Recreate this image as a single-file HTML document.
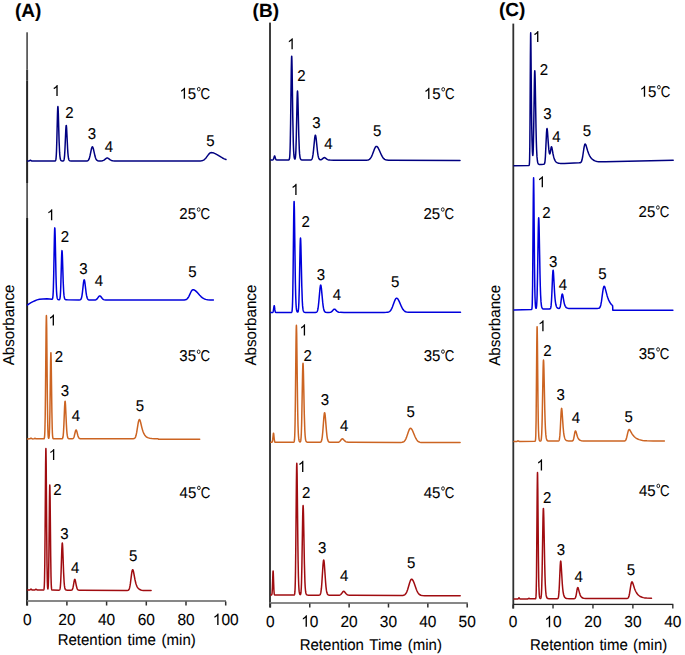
<!DOCTYPE html>
<html><head><meta charset="utf-8"><title>Chromatograms</title>
<style>
html,body{margin:0;padding:0;background:#fff;}
body{width:685px;height:655px;overflow:hidden;}
svg{display:block;font-family:"Liberation Sans",sans-serif;fill:#000;}
text{stroke:#000;stroke-width:0.1px;text-rendering:geometricPrecision;}
</style></head>
<body>
<svg width="685" height="655" viewBox="0 0 685 655">
<rect x="0" y="0" width="685" height="655" fill="#fff"/>
<text font-size="19" text-anchor="start" font-weight="bold" transform="translate(15.00,17.30) scale(1,1.000)">(A)</text>
<text font-size="19" text-anchor="start" font-weight="bold" transform="translate(252.60,17.00) scale(1,1.000)">(B)</text>
<text font-size="19" text-anchor="start" font-weight="bold" transform="translate(499.00,16.00) scale(1,1.000)">(C)</text>
<text x="0" y="0" font-size="15" text-anchor="middle" transform="translate(13.70,324.90) rotate(-90) scale(1.01,1.04)">Absorbance</text>
<text x="0" y="0" font-size="15" text-anchor="middle" transform="translate(255.60,325.10) rotate(-90) scale(1.01,1.04)">Absorbance</text>
<text x="0" y="0" font-size="15" text-anchor="middle" transform="translate(500.10,325.30) rotate(-90) scale(1.01,1.04)">Absorbance</text>
<rect x="26.20" y="32.30" width="1.80" height="37.30" fill="#5c5c5c"/>
<rect x="26.10" y="69.60" width="2.00" height="10.70" fill="#3a3a3a"/>
<rect x="26.10" y="80.30" width="2.00" height="102.70" fill="#262626"/>
<rect x="26.20" y="183.00" width="1.80" height="35.00" fill="#5c5c5c"/>
<rect x="26.10" y="218.00" width="2.00" height="387.50" fill="#1e1e1e"/>
<rect x="27.00" y="600.10" width="199.00" height="1.80" fill="#7a7a7a"/>
<rect x="26.45" y="601.50" width="1.50" height="4.00" fill="#303030"/>
<text font-size="15.5" text-anchor="start" font-weight="normal" transform="translate(22.89,624.90) scale(1,1.040)">0</text>
<rect x="66.15" y="601.50" width="1.50" height="4.00" fill="#303030"/>
<text font-size="15.5" text-anchor="start" font-weight="normal" transform="translate(58.28,624.90) scale(1,1.040)">20</text>
<rect x="105.85" y="601.50" width="1.50" height="4.00" fill="#303030"/>
<text font-size="15.5" text-anchor="start" font-weight="normal" transform="translate(97.98,624.90) scale(1,1.040)">40</text>
<rect x="145.55" y="601.50" width="1.50" height="4.00" fill="#303030"/>
<text font-size="15.5" text-anchor="start" font-weight="normal" transform="translate(137.68,624.90) scale(1,1.040)">60</text>
<rect x="185.25" y="601.50" width="1.50" height="4.00" fill="#303030"/>
<text font-size="15.5" text-anchor="start" font-weight="normal" transform="translate(177.38,624.90) scale(1,1.040)">80</text>
<rect x="224.95" y="601.50" width="1.50" height="4.00" fill="#303030"/>
<path d="M763 0H583V1147Q518 1085 412.5 1023T223 930V1104Q373 1175 485.5 1276T645 1466H763Z" transform="translate(212.77,624.90) scale(0.00757,-0.00780)"/>
<text font-size="15.5" text-anchor="start" font-weight="normal" transform="translate(221.39,624.90) scale(1,1.040)">0</text>
<text font-size="15.5" text-anchor="start" font-weight="normal" transform="translate(230.01,624.90) scale(1,1.040)">0</text>
<text font-size="15" text-anchor="middle" font-weight="normal" word-spacing="1.5" transform="translate(126.70,645.00) scale(1,1.040)">Retention time (min)</text>
<rect x="269.10" y="22.60" width="1.80" height="584.90" fill="#2a2a2a"/>
<rect x="269.50" y="602.10" width="198.30" height="1.80" fill="#7a7a7a"/>
<rect x="269.65" y="603.50" width="1.50" height="4.00" fill="#303030"/>
<text font-size="15.5" text-anchor="start" font-weight="normal" transform="translate(266.09,626.80) scale(1,1.040)">0</text>
<rect x="309.01" y="603.50" width="1.50" height="4.00" fill="#303030"/>
<path d="M763 0H583V1147Q518 1085 412.5 1023T223 930V1104Q373 1175 485.5 1276T645 1466H763Z" transform="translate(301.14,626.80) scale(0.00757,-0.00780)"/>
<text font-size="15.5" text-anchor="start" font-weight="normal" transform="translate(309.76,626.80) scale(1,1.040)">0</text>
<rect x="348.37" y="603.50" width="1.50" height="4.00" fill="#303030"/>
<text font-size="15.5" text-anchor="start" font-weight="normal" transform="translate(340.50,626.80) scale(1,1.040)">20</text>
<rect x="387.73" y="603.50" width="1.50" height="4.00" fill="#303030"/>
<text font-size="15.5" text-anchor="start" font-weight="normal" transform="translate(379.86,626.80) scale(1,1.040)">30</text>
<rect x="427.09" y="603.50" width="1.50" height="4.00" fill="#303030"/>
<text font-size="15.5" text-anchor="start" font-weight="normal" transform="translate(419.22,626.80) scale(1,1.040)">40</text>
<rect x="466.45" y="603.50" width="1.50" height="4.00" fill="#303030"/>
<text font-size="15.5" text-anchor="start" font-weight="normal" transform="translate(458.58,626.80) scale(1,1.040)">50</text>
<text font-size="15" text-anchor="middle" font-weight="normal" word-spacing="1.5" transform="translate(370.80,649.50) scale(1,1.040)">Retention Time (min)</text>
<rect x="512.40" y="23.60" width="1.80" height="584.90" fill="#303030"/>
<rect x="513.00" y="603.75" width="160.30" height="1.30" fill="#222"/>
<rect x="512.40" y="604.50" width="1.40" height="4.00" fill="#303030"/>
<text font-size="15.5" text-anchor="start" font-weight="normal" transform="translate(508.79,627.30) scale(1,1.040)">0</text>
<rect x="552.33" y="604.50" width="1.40" height="4.00" fill="#303030"/>
<path d="M763 0H583V1147Q518 1085 412.5 1023T223 930V1104Q373 1175 485.5 1276T645 1466H763Z" transform="translate(544.41,627.30) scale(0.00757,-0.00780)"/>
<text font-size="15.5" text-anchor="start" font-weight="normal" transform="translate(553.03,627.30) scale(1,1.040)">0</text>
<rect x="592.26" y="604.50" width="1.40" height="4.00" fill="#303030"/>
<text font-size="15.5" text-anchor="start" font-weight="normal" transform="translate(584.34,627.30) scale(1,1.040)">20</text>
<rect x="632.19" y="604.50" width="1.40" height="4.00" fill="#303030"/>
<text font-size="15.5" text-anchor="start" font-weight="normal" transform="translate(624.27,627.30) scale(1,1.040)">30</text>
<rect x="672.12" y="604.50" width="1.40" height="4.00" fill="#303030"/>
<text font-size="15.5" text-anchor="start" font-weight="normal" transform="translate(664.20,627.30) scale(1,1.040)">40</text>
<text font-size="15" text-anchor="middle" font-weight="normal" word-spacing="1.1" transform="translate(598.60,649.60) scale(1,1.040)">Retention time (min)</text>
<path d="M27.50,161.00 28.60,160.99 29.10,160.92 29.50,160.74 30.10,160.29 30.40,160.20 30.70,160.29 31.60,160.89 32.50,161.00 54.60,161.00 55.20,160.92 55.40,160.80 55.60,160.51 55.90,159.40 56.10,157.81 56.30,155.13 56.50,150.99 56.80,141.62 57.50,113.32 57.70,108.35 57.80,107.04 57.90,106.60 58.00,107.02 58.10,108.27 58.30,112.88 59.10,141.02 59.60,152.42 59.90,156.12 60.30,158.77 60.50,159.50 60.80,160.18 61.10,160.55 61.60,160.83 62.20,160.95 62.90,160.97 63.30,160.91 63.60,160.72 63.80,160.42 64.00,159.89 64.30,158.31 64.60,155.31 64.90,150.44 65.80,129.71 66.00,126.76 66.20,125.45 66.30,125.47 66.40,125.93 66.60,128.07 67.60,148.45 67.90,153.08 68.20,156.25 68.50,158.26 68.90,159.73 69.10,160.14 69.40,160.53 69.70,160.74 70.10,160.88 70.80,160.97 71.90,161.00 85.90,160.99 87.10,160.90 87.50,160.80 87.90,160.60 88.30,160.26 88.70,159.71 89.10,158.88 89.40,158.03 90.00,155.75 91.50,148.61 92.00,147.17 92.20,146.89 92.40,146.80 92.60,146.90 92.80,147.18 93.20,148.23 93.60,149.79 95.00,156.07 95.40,157.45 95.90,158.76 96.50,159.78 97.10,160.37 97.80,160.73 98.80,160.92 100.00,160.97 101.20,160.95 102.10,160.84 102.80,160.66 103.40,160.41 104.00,160.04 106.20,158.31 106.70,158.08 107.20,158.00 107.70,158.08 108.30,158.35 110.30,159.85 111.40,160.45 112.70,160.81 114.60,160.97 195.30,161.00 200.20,160.91 201.50,160.76 202.60,160.48 203.50,160.10 204.40,159.51 205.20,158.81 206.00,157.92 208.40,154.66 209.30,153.59 209.80,153.13 210.20,152.86 210.70,152.65 211.10,152.60 212.00,152.65 213.00,152.83 214.00,153.13 215.10,153.59 217.00,154.60 220.80,156.97 222.50,157.96 224.30,158.85 226.00,159.52" fill="none" stroke="#000080" stroke-width="1.50" stroke-linejoin="round" stroke-linecap="round"/>
<path d="M27.50,305.00 29.00,303.80 31.00,302.60 33.00,301.60 35.00,300.70 37.00,299.90 39.50,299.20 43.00,298.90 47.00,298.80 51.90,299.26 52.10,299.22 52.30,299.09 52.50,298.77 52.80,297.48 53.00,295.58 53.20,292.28 53.40,287.09 53.70,275.06 54.40,237.19 54.60,230.33 54.70,228.50 54.80,227.88 54.90,228.46 55.00,230.20 55.20,236.68 56.00,275.84 56.20,283.11 56.50,290.69 56.80,295.08 57.10,297.40 57.30,298.27 57.50,298.81 57.80,299.27 58.20,299.54 58.70,299.67 59.20,299.70 59.50,299.58 59.70,299.33 60.00,298.35 60.30,295.85 60.60,290.75 60.80,285.48 61.60,256.69 61.80,252.19 61.90,251.01 62.00,250.61 62.10,251.00 62.20,252.12 62.40,256.30 63.20,281.75 63.70,292.07 64.00,295.42 64.40,297.81 64.60,298.48 64.90,299.09 65.20,299.43 65.70,299.69 66.30,299.80 67.40,299.85 79.20,299.94 80.20,299.83 80.50,299.69 80.80,299.43 81.10,298.97 81.40,298.23 81.90,296.08 82.40,292.56 83.50,282.58 83.90,280.33 84.10,279.85 84.20,279.78 84.30,279.84 84.50,280.30 84.80,281.78 86.10,292.56 86.50,295.19 86.90,297.08 87.30,298.32 87.80,299.21 88.10,299.51 88.40,299.70 89.20,299.94 90.60,300.02 94.20,300.04 95.20,299.96 95.90,299.78 96.50,299.45 97.10,298.89 99.00,296.32 99.40,296.00 99.80,295.90 100.20,296.01 100.60,296.32 102.30,298.53 103.20,299.37 103.70,299.66 104.30,299.87 105.80,300.06 180.30,300.10 182.90,300.08 184.30,300.01 185.30,299.84 186.20,299.51 186.90,299.05 187.60,298.37 188.20,297.56 188.90,296.35 190.80,292.25 191.50,290.92 192.20,290.02 192.60,289.76 192.90,289.70 193.50,289.76 194.20,289.99 194.90,290.37 195.60,290.88 196.90,292.12 199.70,295.26 201.00,296.58 202.50,297.83 203.90,298.69 204.70,299.06 205.60,299.38 207.50,299.79 209.90,300.01 213.40,300.09" fill="none" stroke="#0000dc" stroke-width="1.50" stroke-linejoin="round" stroke-linecap="round"/>
<path d="M27.50,438.90 29.80,438.85 30.10,438.74 30.70,438.23 31.00,438.09 31.30,438.23 31.90,438.73 32.50,438.88 33.90,438.84 34.20,438.72 34.80,438.33 35.00,438.29 35.30,438.39 35.90,438.77 36.40,438.87 43.60,438.86 44.00,438.74 44.20,438.47 44.40,437.79 44.50,437.15 44.70,434.84 44.90,430.27 45.20,416.42 45.50,391.56 46.10,327.94 46.30,316.92 46.40,315.47 46.50,316.92 46.70,327.94 47.40,401.08 47.70,422.17 47.90,430.26 48.10,434.82 48.30,437.12 48.40,437.73 48.60,438.30 48.70,438.35 48.80,438.27 48.90,438.03 49.10,436.98 49.20,436.04 49.40,432.85 49.60,427.20 49.90,412.47 50.60,361.37 50.80,353.68 50.90,352.66 51.00,353.68 51.20,361.37 51.90,412.47 52.20,427.20 52.40,432.85 52.60,436.04 52.90,438.10 53.10,438.58 53.30,438.77 54.00,438.86 61.80,438.83 62.10,438.77 62.40,438.60 62.60,438.34 62.80,437.84 63.00,436.99 63.20,435.60 63.50,432.12 63.90,424.37 64.60,406.79 64.90,402.15 65.00,401.46 65.10,401.24 65.20,401.50 65.30,402.21 65.50,404.85 66.40,424.62 66.70,429.77 67.00,433.36 67.30,435.66 67.70,437.36 67.90,437.84 68.20,438.29 68.50,438.53 68.90,438.70 70.00,438.82 72.30,438.79 72.90,438.63 73.40,438.21 73.80,437.53 74.20,436.41 75.30,431.71 75.60,430.66 75.90,430.04 76.10,429.93 76.20,429.96 76.40,430.21 76.70,430.97 77.90,435.68 78.50,437.31 78.80,437.82 79.20,438.27 79.70,438.57 80.30,438.72 81.20,438.80 83.00,438.81 131.50,438.74 133.20,438.71 134.00,438.60 134.60,438.31 135.10,437.79 135.60,436.82 136.00,435.61 136.70,432.40 138.00,424.17 138.40,422.00 138.90,420.16 139.10,419.76 139.40,419.53 139.60,419.62 139.80,419.88 140.20,420.85 140.60,422.27 141.80,427.34 142.40,429.61 143.10,431.78 143.90,433.67 144.80,435.19 145.80,436.36 146.40,436.86 147.00,437.25 148.40,437.88 149.90,438.25 151.80,438.50 154.30,438.63 158.00,438.68 158.50,439.19 199.70,439.20" fill="none" stroke="#cc6422" stroke-width="1.50" stroke-linejoin="round" stroke-linecap="round"/>
<path d="M27.50,590.00 29.80,589.96 30.10,589.83 30.70,589.26 31.00,589.12 31.30,589.27 31.90,589.84 32.20,589.97 32.50,590.01 34.60,589.98 35.00,589.84 35.70,589.33 36.00,589.24 36.30,589.34 37.10,589.90 37.60,590.03 43.30,590.06 43.60,589.99 43.80,589.77 44.00,589.14 44.10,588.51 44.30,586.04 44.50,580.78 44.80,563.71 45.10,531.87 45.60,465.13 45.80,450.44 45.90,448.49 46.00,450.44 46.20,465.13 46.70,531.88 47.00,563.72 47.30,580.77 47.50,585.98 47.60,587.41 47.80,588.75 47.90,588.85 48.00,588.62 48.10,588.03 48.30,585.44 48.60,575.87 48.90,555.98 49.50,497.36 49.70,486.46 49.80,485.01 49.90,486.46 50.10,497.36 50.70,555.99 51.00,575.89 51.20,583.21 51.40,587.11 51.60,588.95 51.70,589.42 51.90,589.89 52.10,590.05 52.50,590.12 59.00,590.13 59.30,590.06 59.60,589.85 59.80,589.52 60.00,588.90 60.20,587.83 60.40,586.09 60.70,581.74 61.10,572.03 61.80,550.02 62.10,544.21 62.20,543.34 62.30,543.07 62.40,543.39 62.50,544.28 62.70,547.60 63.60,572.37 64.10,582.02 64.40,585.39 64.80,587.94 65.00,588.66 65.30,589.34 65.60,589.72 65.90,589.93 66.40,590.10 67.10,590.17 70.90,590.20 71.70,590.06 72.00,589.88 72.20,589.67 72.60,588.91 72.90,587.96 73.30,586.10 74.20,580.86 74.50,579.73 74.70,579.38 74.80,579.33 75.00,579.50 75.30,580.36 76.40,586.03 77.00,588.27 77.30,588.96 77.70,589.55 78.20,589.94 78.80,590.13 79.70,590.23 81.40,590.26 125.60,590.48 127.20,590.47 128.00,590.35 128.30,590.22 128.60,589.99 129.00,589.45 129.40,588.49 129.70,587.41 130.00,585.96 130.40,583.44 131.50,574.65 131.90,571.98 132.30,570.27 132.50,569.84 132.70,569.71 132.90,569.86 133.10,570.28 133.50,571.73 135.00,579.76 135.90,583.54 136.40,585.07 136.90,586.28 137.50,587.38 138.20,588.32 138.90,588.98 139.80,589.55 140.80,589.94 141.90,590.21 143.30,590.39 145.00,590.50 151.10,590.60" fill="none" stroke="#a00c10" stroke-width="1.50" stroke-linejoin="round" stroke-linecap="round"/>
<path d="M270.80,159.90 272.60,159.89 272.90,159.84 273.20,159.65 273.40,159.37 273.60,158.91 274.30,156.38 274.50,155.97 274.60,155.91 274.70,155.97 274.90,156.39 275.70,159.17 276.00,159.66 276.20,159.81 276.50,159.89 288.60,159.95 289.00,159.82 289.20,159.59 289.50,158.59 289.70,156.99 289.90,154.01 290.10,148.95 290.30,141.07 290.60,123.18 291.30,68.79 291.50,59.32 291.60,56.90 291.70,56.18 291.80,57.15 291.90,59.73 292.10,69.04 292.80,118.15 293.30,142.53 293.60,150.44 293.90,154.94 294.10,156.71 294.30,157.86 294.50,158.58 294.80,159.08 295.00,159.04 295.10,158.89 295.40,157.61 295.70,154.31 295.90,150.38 296.30,137.03 297.10,98.96 297.30,93.21 297.40,91.67 297.50,91.10 297.60,91.50 297.70,92.84 297.90,97.99 298.80,135.77 299.30,149.39 299.60,153.91 300.00,157.20 300.20,158.11 300.50,158.97 300.80,159.44 301.30,159.80 301.90,159.95 302.80,160.01 310.40,160.02 310.90,159.95 311.30,159.79 311.60,159.54 311.90,159.13 312.20,158.45 312.50,157.42 313.00,154.66 313.50,150.44 314.70,138.09 315.10,135.71 315.30,135.22 315.40,135.17 315.50,135.24 315.70,135.76 316.10,138.14 317.40,150.74 317.80,153.87 318.10,155.68 318.50,157.42 319.00,158.74 319.50,159.43 319.80,159.65 320.20,159.79 320.80,159.80 321.50,159.56 322.10,159.16 323.60,157.87 324.00,157.67 324.40,157.60 324.80,157.67 325.20,157.86 326.80,159.10 327.70,159.61 328.70,159.91 330.10,160.07 333.70,160.13 364.30,160.24 366.50,160.19 367.90,160.01 368.80,159.70 369.50,159.28 370.20,158.63 370.90,157.68 371.50,156.61 372.20,155.06 374.20,149.66 374.90,148.02 375.30,147.29 375.70,146.76 376.10,146.46 376.40,146.39 376.80,146.48 377.30,146.82 377.70,147.27 378.20,148.03 379.10,149.81 381.50,155.21 382.30,156.68 383.00,157.73 383.80,158.64 384.70,159.35 385.70,159.83 386.80,160.11 388.50,160.29 391.30,160.34 460.00,160.60" fill="none" stroke="#000080" stroke-width="1.50" stroke-linejoin="round" stroke-linecap="round"/>
<path d="M270.80,312.50 272.50,312.48 272.80,312.36 273.00,312.12 273.30,311.15 273.90,306.82 274.10,305.83 274.20,305.70 274.30,305.83 274.40,306.22 274.90,309.94 275.20,311.58 275.50,312.26 275.80,312.45 291.10,312.47 291.50,312.39 291.70,312.21 291.90,311.76 292.00,311.34 292.20,309.81 292.40,306.77 292.60,301.30 292.80,292.45 293.10,271.73 293.70,217.57 293.90,205.71 294.00,202.52 294.10,201.38 294.20,202.30 294.40,209.83 295.20,271.04 295.40,283.24 295.70,296.12 296.00,303.74 296.30,307.92 296.50,309.54 296.70,310.59 297.00,311.50 297.20,311.84 297.40,312.04 297.70,312.12 297.90,311.98 298.10,311.58 298.30,310.73 298.60,307.95 298.90,302.14 299.30,287.70 300.10,246.56 300.30,240.35 300.40,238.69 300.50,238.07 300.60,238.50 300.70,239.95 300.90,245.51 301.80,286.30 302.30,301.00 302.60,305.88 303.00,309.43 303.20,310.42 303.50,311.34 303.80,311.85 304.30,312.24 304.90,312.40 305.90,312.45 315.50,312.44 316.10,312.36 316.50,312.22 316.80,312.00 317.10,311.61 317.40,310.98 317.70,309.98 318.00,308.52 318.30,306.51 318.80,301.86 320.00,288.27 320.40,285.65 320.60,285.11 320.70,285.05 320.80,285.13 321.00,285.70 321.40,288.31 322.70,302.18 323.10,305.61 323.50,308.16 323.90,309.89 324.40,311.18 324.70,311.64 325.00,311.94 325.40,312.17 325.90,312.32 327.00,312.42 329.20,312.42 330.10,312.35 330.80,312.17 331.40,311.85 331.90,311.43 333.60,309.50 334.00,309.23 334.40,309.13 334.80,309.22 335.20,309.47 336.80,311.10 337.70,311.77 338.20,312.01 338.80,312.19 340.20,312.37 344.00,312.42 384.10,312.38 386.50,312.33 387.90,312.16 388.90,311.85 389.70,311.37 390.40,310.70 391.10,309.73 391.70,308.63 392.40,307.04 394.40,301.52 395.10,299.84 395.50,299.09 395.90,298.55 396.30,298.24 396.60,298.17 397.00,298.25 397.50,298.60 397.90,299.06 398.40,299.83 399.30,301.65 401.60,306.95 402.40,308.48 403.10,309.58 403.90,310.54 404.70,311.23 405.60,311.73 406.70,312.08 408.30,312.28 411.00,312.35 460.50,312.30" fill="none" stroke="#0000dc" stroke-width="1.50" stroke-linejoin="round" stroke-linecap="round"/>
<path d="M270.80,442.20 271.70,442.19 272.00,442.10 272.20,441.90 272.40,441.40 272.70,439.70 273.30,433.90 273.40,433.38 273.50,433.21 273.60,433.38 273.70,433.90 274.20,438.83 274.50,440.99 274.80,441.90 275.10,442.16 275.80,442.21 293.40,442.24 293.80,442.15 294.00,441.97 294.20,441.49 294.30,441.05 294.50,439.44 294.70,436.24 294.90,430.49 295.10,421.18 295.40,399.38 296.00,342.40 296.20,329.92 296.30,326.56 296.40,325.35 296.50,326.33 296.70,334.25 297.50,398.66 297.70,411.49 298.00,425.05 298.30,433.07 298.50,436.29 298.70,438.41 298.90,439.79 299.10,440.67 299.40,441.44 299.80,441.90 300.10,441.99 300.40,441.79 300.60,441.35 300.80,440.44 301.10,437.47 301.30,433.81 301.60,424.72 301.80,415.96 302.60,372.29 302.80,365.69 302.90,363.93 303.00,363.27 303.10,363.73 303.20,365.26 303.40,371.17 304.30,414.49 304.80,430.10 305.10,435.28 305.50,439.05 305.70,440.10 306.00,441.08 306.30,441.62 306.80,442.03 307.40,442.20 308.50,442.27 319.60,442.29 320.20,442.24 320.60,442.12 320.90,441.92 321.20,441.53 321.50,440.86 321.80,439.77 322.30,436.61 322.80,431.45 323.90,416.83 324.30,413.52 324.50,412.81 324.60,412.71 324.70,412.79 324.90,413.47 325.20,415.64 326.50,431.42 326.90,435.28 327.30,438.04 327.70,439.85 328.20,441.15 328.50,441.59 328.80,441.87 329.20,442.09 329.60,442.20 331.10,442.32 336.20,442.34 337.60,442.30 338.40,442.19 339.00,441.96 339.60,441.56 340.20,440.94 341.50,439.34 342.00,438.95 342.40,438.85 342.80,438.95 343.20,439.21 344.80,440.94 345.70,441.66 346.20,441.91 346.80,442.11 348.30,442.31 352.20,442.37 398.40,442.47 400.80,442.44 402.10,442.32 403.10,442.05 403.90,441.60 404.60,440.94 405.30,439.95 405.90,438.80 406.50,437.37 408.40,431.77 409.10,429.96 409.50,429.17 409.80,428.73 410.20,428.38 410.50,428.30 410.90,428.39 411.30,428.68 411.70,429.16 412.20,429.97 413.00,431.66 415.20,437.04 415.90,438.48 416.60,439.67 417.30,440.59 418.00,441.26 418.80,441.79 419.70,442.15 421.20,442.42 423.70,442.52 460.10,442.60" fill="none" stroke="#cc6422" stroke-width="1.50" stroke-linejoin="round" stroke-linecap="round"/>
<path d="M270.80,595.00 271.40,594.98 271.70,594.81 271.90,594.32 272.10,592.97 272.40,587.82 272.90,573.18 273.00,571.50 273.10,570.91 273.20,571.50 273.30,573.18 273.90,590.05 274.20,593.80 274.30,594.33 274.50,594.82 274.70,594.97 275.10,595.02 293.80,595.09 294.20,594.99 294.40,594.78 294.60,594.25 294.70,593.75 294.90,591.93 295.10,588.32 295.30,581.83 295.50,571.33 295.80,546.73 296.40,482.44 296.60,468.36 296.70,464.57 296.80,463.21 296.90,464.31 297.10,473.24 297.90,545.93 298.10,560.40 298.40,575.70 298.70,584.75 299.00,589.71 299.20,591.64 299.50,593.33 299.80,594.19 300.10,594.58 300.30,594.64 300.40,594.60 300.60,594.32 300.80,593.61 301.00,592.20 301.30,587.83 301.50,582.68 301.90,565.29 302.70,515.76 302.90,508.29 303.00,506.28 303.10,505.54 303.20,506.06 303.30,507.80 303.50,514.50 304.40,563.63 304.90,581.34 305.20,587.21 305.60,591.49 305.80,592.68 306.10,593.79 306.40,594.41 306.60,594.65 306.90,594.88 307.50,595.07 308.50,595.15 318.80,595.19 319.30,595.13 319.70,594.99 320.00,594.74 320.30,594.29 320.60,593.49 320.90,592.19 321.40,588.44 321.90,582.30 323.00,564.91 323.40,560.98 323.60,560.14 323.70,560.02 323.80,560.12 324.00,560.92 324.30,563.50 325.60,582.27 326.00,586.86 326.40,590.14 326.80,592.30 327.30,593.84 327.60,594.36 327.90,594.70 328.30,594.96 328.70,595.10 329.30,595.19 330.30,595.24 336.70,595.28 338.60,595.26 339.60,595.14 340.20,594.91 340.80,594.49 341.40,593.83 342.90,591.75 343.30,591.42 343.70,591.31 344.10,591.42 344.50,591.72 346.10,593.70 347.00,594.53 347.50,594.81 348.10,595.04 349.60,595.27 353.50,595.35 399.50,595.54 401.90,595.51 403.20,595.38 404.20,595.06 405.00,594.55 405.70,593.79 406.40,592.65 407.00,591.32 407.60,589.67 409.50,583.21 410.20,581.12 410.60,580.20 410.90,579.70 411.30,579.29 411.60,579.19 412.00,579.31 412.40,579.65 412.80,580.19 413.30,581.13 414.10,583.09 416.30,589.31 417.00,590.97 417.70,592.34 418.40,593.40 419.10,594.19 419.90,594.80 420.80,595.21 421.50,595.40 422.30,595.52 424.70,595.64 460.20,595.80" fill="none" stroke="#a00c10" stroke-width="1.50" stroke-linejoin="round" stroke-linecap="round"/>
<path d="M514.00,165.80 528.80,165.51 529.10,165.37 529.30,164.74 529.50,162.23 529.60,159.32 529.80,147.33 530.00,123.78 530.40,55.66 530.60,35.18 530.70,32.80 530.80,35.59 530.90,42.64 531.40,99.12 531.70,124.53 532.00,140.42 532.40,151.88 532.70,155.31 532.80,155.52 532.90,155.21 533.10,152.84 533.30,147.72 533.70,128.26 534.40,81.18 534.60,73.27 534.70,71.29 534.80,70.72 534.90,71.55 535.00,73.71 535.20,81.38 536.00,127.46 536.30,140.54 536.60,149.60 537.00,156.89 537.40,160.72 537.60,161.87 537.90,163.01 538.20,163.69 538.60,164.18 539.10,164.45 539.90,164.56 541.30,164.50 543.70,164.29 544.00,164.20 544.30,163.97 544.50,163.64 544.70,163.05 544.90,162.04 545.10,160.47 545.40,156.68 546.50,133.01 546.80,129.28 546.90,128.72 547.00,128.52 547.10,128.65 547.20,129.09 547.50,131.89 548.30,143.33 548.80,149.18 549.20,152.31 549.50,153.62 549.70,153.94 549.80,153.93 550.00,153.57 550.30,152.28 551.10,147.57 551.40,146.81 551.50,146.77 551.60,146.85 551.80,147.29 552.10,148.56 553.00,153.75 553.50,156.18 554.00,158.04 554.50,159.45 555.20,160.85 555.60,161.43 556.10,161.98 556.60,162.40 557.10,162.70 558.30,163.15 559.30,163.33 560.60,163.43 564.40,163.41 579.10,162.84 580.10,162.73 580.70,162.47 581.10,162.09 581.50,161.41 581.80,160.63 582.10,159.56 582.70,156.50 583.80,149.00 584.20,146.64 584.70,144.68 584.90,144.27 585.00,144.14 585.20,144.03 585.40,144.11 585.60,144.36 586.00,145.26 587.70,150.98 588.60,153.54 589.50,155.54 590.50,157.23 591.10,158.03 591.80,158.80 592.50,159.42 593.30,159.99 594.20,160.49 595.10,160.87 596.10,161.18 597.20,161.42 598.70,161.64 600.50,161.77 605.30,161.82 673.20,160.30" fill="none" stroke="#000080" stroke-width="1.50" stroke-linejoin="round" stroke-linecap="round"/>
<path d="M514.00,310.00 531.30,309.61 531.50,309.56 531.70,309.38 531.90,308.78 532.00,308.12 532.20,305.26 532.30,302.58 532.60,285.87 533.30,196.28 533.50,180.13 533.60,177.84 533.70,179.66 533.90,194.09 534.50,265.45 534.80,288.16 535.00,296.95 535.30,304.03 535.60,307.09 535.80,308.01 536.00,308.37 536.10,308.37 536.20,308.25 536.30,307.98 536.60,306.00 536.90,301.20 537.10,295.63 537.50,277.30 538.30,227.49 538.50,220.29 538.60,218.41 538.70,217.76 538.80,218.33 538.90,220.07 539.10,226.61 540.00,274.28 540.30,286.32 540.60,294.76 541.00,301.65 541.40,305.32 541.60,306.43 541.90,307.53 542.30,308.35 542.70,308.76 543.30,309.03 544.20,309.12 549.60,308.96 550.00,308.88 550.30,308.69 550.50,308.41 550.70,307.90 550.90,307.04 551.10,305.67 551.50,300.74 551.80,294.82 552.60,275.40 552.90,271.14 553.00,270.49 553.10,270.24 553.20,270.40 553.30,270.94 553.50,273.03 554.60,292.92 555.00,298.29 555.40,301.97 555.90,304.84 556.40,306.48 556.70,307.11 557.10,307.67 557.60,308.09 558.10,308.33 558.90,308.45 559.40,308.28 559.80,307.78 560.10,307.00 560.40,305.73 560.70,303.89 561.70,295.95 562.00,294.48 562.10,294.20 562.30,293.98 562.50,294.21 562.80,295.25 564.00,302.10 564.40,303.85 564.80,305.17 565.30,306.32 565.80,307.09 566.40,307.66 567.20,308.10 568.00,308.32 568.90,308.44 571.90,308.52 597.30,308.38 598.40,308.33 599.10,308.15 599.60,307.80 600.00,307.26 600.40,306.35 600.80,304.96 601.50,301.18 602.70,292.18 603.20,288.98 603.70,286.93 603.90,286.49 604.00,286.36 604.20,286.25 604.40,286.34 604.60,286.61 605.00,287.58 607.20,295.92 607.90,298.09 608.60,299.89 609.50,301.75 610.40,303.20 611.40,304.43 612.50,305.45 612.70,306.87 612.80,310.20 672.90,310.20" fill="none" stroke="#0000dc" stroke-width="1.50" stroke-linejoin="round" stroke-linecap="round"/>
<path d="M514.00,441.50 516.80,441.44 517.10,441.35 517.70,440.96 518.00,440.86 518.30,440.95 518.90,441.33 519.50,441.43 534.70,441.27 535.00,441.23 535.20,441.08 535.40,440.56 535.60,439.02 535.80,435.17 536.10,420.64 536.80,342.69 537.00,328.64 537.10,326.65 537.20,328.23 537.40,340.80 538.00,402.90 538.30,422.67 538.50,430.33 538.80,436.50 539.00,438.54 539.20,439.71 539.40,440.37 539.70,440.86 540.10,441.09 540.40,441.12 540.60,441.06 540.90,440.74 541.10,440.19 541.40,438.28 541.70,433.97 542.00,425.78 542.20,417.65 543.10,368.69 543.30,362.32 543.40,360.66 543.50,360.08 543.60,360.59 543.70,362.13 543.90,367.93 544.80,410.15 545.10,420.81 545.40,428.30 545.80,434.40 546.20,437.66 546.40,438.65 546.70,439.63 547.10,440.36 547.50,440.74 548.20,441.00 549.20,441.09 557.90,441.02 558.40,440.97 558.70,440.85 558.90,440.67 559.10,440.33 559.30,439.73 559.50,438.76 559.90,435.13 560.30,428.73 561.10,412.56 561.40,409.11 561.50,408.59 561.60,408.40 561.70,408.54 561.80,408.98 562.00,410.67 563.20,428.02 563.60,432.15 564.00,435.04 564.50,437.38 564.80,438.32 565.10,439.02 565.50,439.67 565.90,440.11 566.40,440.46 566.90,440.68 567.60,440.84 568.50,440.94 571.60,441.00 572.40,440.90 572.70,440.74 572.90,440.54 573.30,439.83 573.60,438.91 574.00,437.09 574.90,432.23 575.20,431.25 575.30,431.07 575.50,430.91 575.70,431.04 576.00,431.66 577.30,436.21 577.80,437.54 578.30,438.52 578.90,439.35 579.60,439.97 580.40,440.40 581.40,440.70 583.40,440.94 586.90,441.02 622.80,441.06 624.50,440.98 625.00,440.81 625.40,440.51 625.80,439.97 626.10,439.34 626.70,437.45 627.80,432.60 628.20,431.09 628.70,429.86 628.90,429.60 629.20,429.47 629.50,429.59 629.90,430.04 632.20,434.11 633.10,435.37 634.10,436.50 635.20,437.50 636.40,438.33 637.70,439.02 639.20,439.61 640.80,440.05 642.60,440.39 644.60,440.64 647.00,440.82 653.20,441.02 664.40,441.09" fill="none" stroke="#cc6422" stroke-width="1.50" stroke-linejoin="round" stroke-linecap="round"/>
<path d="M514.00,599.00 517.90,598.95 518.10,598.88 518.30,598.71 518.80,597.91 519.00,597.77 519.20,597.91 519.80,598.80 520.00,598.91 520.40,598.96 527.60,598.90 528.10,598.79 528.70,598.40 529.00,598.30 529.30,598.40 529.90,598.78 530.30,598.87 535.10,598.86 535.40,598.81 535.60,598.65 535.80,598.08 536.00,596.39 536.20,592.14 536.50,576.12 537.20,490.23 537.40,474.75 537.50,472.55 537.60,474.29 537.80,488.14 538.40,556.59 538.70,578.38 538.90,586.82 539.20,593.62 539.40,595.88 539.60,597.16 539.80,597.88 540.10,598.41 540.40,598.57 540.70,598.42 540.90,598.02 541.10,597.17 541.40,594.34 541.70,588.27 542.10,572.57 543.00,518.00 543.20,510.90 543.30,509.05 543.40,508.41 543.50,508.98 543.60,510.70 543.80,517.16 544.70,564.23 545.00,576.12 545.30,584.46 545.70,591.27 546.10,594.90 546.30,596.00 546.60,597.09 546.90,597.76 547.30,598.26 547.60,598.46 548.00,598.61 549.00,598.74 557.00,598.71 557.50,598.66 557.80,598.52 558.00,598.31 558.20,597.92 558.40,597.24 558.60,596.12 559.00,591.94 559.40,584.56 560.20,565.90 560.50,561.92 560.60,561.32 560.70,561.10 560.80,561.25 560.90,561.77 561.10,563.71 562.30,583.72 562.70,588.48 563.10,591.81 563.60,594.51 563.90,595.59 564.20,596.39 564.50,596.99 564.90,597.54 565.40,597.99 565.90,598.26 566.50,598.45 567.20,598.56 569.40,598.66 574.10,598.64 574.60,598.56 575.00,598.35 575.30,597.99 575.50,597.60 575.90,596.33 576.30,594.34 577.20,588.99 577.50,587.92 577.60,587.71 577.80,587.54 578.00,587.68 578.30,588.35 579.60,593.35 580.10,594.82 580.60,595.89 581.20,596.79 581.90,597.48 582.80,597.99 583.80,598.30 585.80,598.53 589.30,598.60 625.60,598.48 626.70,598.46 627.30,598.39 627.90,598.12 628.30,597.69 628.70,596.90 629.00,596.00 629.60,593.23 630.70,586.12 631.10,583.94 631.50,582.48 631.70,582.08 631.80,581.95 632.00,581.86 632.30,582.07 632.70,582.85 634.60,588.68 635.20,590.21 635.80,591.50 636.50,592.76 637.20,593.79 638.00,594.74 638.80,595.49 639.80,596.22 640.90,596.82 642.10,597.28 643.40,597.63 644.90,597.91 646.70,598.11 651.50,598.32" fill="none" stroke="#a00c10" stroke-width="1.50" stroke-linejoin="round" stroke-linecap="round"/>
<path d="M763 0H583V1147Q518 1085 412.5 1023T223 930V1104Q373 1175 485.5 1276T645 1466H763Z" transform="translate(52.09,96.10) scale(0.00732,-0.00754)"/>
<text font-size="15" text-anchor="start" font-weight="normal" transform="translate(65.23,118.30) scale(1,1.040)">2</text>
<text font-size="15" text-anchor="start" font-weight="normal" transform="translate(87.87,139.00) scale(1,1.040)">3</text>
<text font-size="15" text-anchor="start" font-weight="normal" transform="translate(104.68,151.90) scale(1,1.040)">4</text>
<text font-size="15" text-anchor="start" font-weight="normal" transform="translate(206.34,146.10) scale(1,1.040)">5</text>
<path d="M763 0H583V1147Q518 1085 412.5 1023T223 930V1104Q373 1175 485.5 1276T645 1466H763Z" transform="translate(46.69,220.30) scale(0.00732,-0.00754)"/>
<text font-size="15" text-anchor="start" font-weight="normal" transform="translate(60.73,242.10) scale(1,1.040)">2</text>
<text font-size="15" text-anchor="start" font-weight="normal" transform="translate(79.17,273.90) scale(1,1.040)">3</text>
<text font-size="15" text-anchor="start" font-weight="normal" transform="translate(94.78,285.80) scale(1,1.040)">4</text>
<text font-size="15" text-anchor="start" font-weight="normal" transform="translate(188.24,276.50) scale(1,1.040)">5</text>
<path d="M763 0H583V1147Q518 1085 412.5 1023T223 930V1104Q373 1175 485.5 1276T645 1466H763Z" transform="translate(48.39,325.60) scale(0.00732,-0.00754)"/>
<text font-size="15" text-anchor="start" font-weight="normal" transform="translate(54.83,362.30) scale(1,1.040)">2</text>
<text font-size="15" text-anchor="start" font-weight="normal" transform="translate(60.87,396.20) scale(1,1.040)">3</text>
<text font-size="15" text-anchor="start" font-weight="normal" transform="translate(71.78,421.40) scale(1,1.040)">4</text>
<text font-size="15" text-anchor="start" font-weight="normal" transform="translate(135.74,411.40) scale(1,1.040)">5</text>
<path d="M763 0H583V1147Q518 1085 412.5 1023T223 930V1104Q373 1175 485.5 1276T645 1466H763Z" transform="translate(48.69,460.00) scale(0.00732,-0.00754)"/>
<text font-size="15" text-anchor="start" font-weight="normal" transform="translate(53.33,494.70) scale(1,1.040)">2</text>
<text font-size="15" text-anchor="start" font-weight="normal" transform="translate(60.17,539.40) scale(1,1.040)">3</text>
<text font-size="15" text-anchor="start" font-weight="normal" transform="translate(70.88,573.20) scale(1,1.040)">4</text>
<text font-size="15" text-anchor="start" font-weight="normal" transform="translate(128.94,560.90) scale(1,1.040)">5</text>
<path d="M763 0H583V1147Q518 1085 412.5 1023T223 930V1104Q373 1175 485.5 1276T645 1466H763Z" transform="translate(287.19,49.20) scale(0.00732,-0.00754)"/>
<text font-size="15" text-anchor="start" font-weight="normal" transform="translate(297.33,81.30) scale(1,1.040)">2</text>
<text font-size="15" text-anchor="start" font-weight="normal" transform="translate(312.37,128.30) scale(1,1.040)">3</text>
<text font-size="15" text-anchor="start" font-weight="normal" transform="translate(324.18,149.00) scale(1,1.040)">4</text>
<text font-size="15" text-anchor="start" font-weight="normal" transform="translate(373.04,136.30) scale(1,1.040)">5</text>
<path d="M763 0H583V1147Q518 1085 412.5 1023T223 930V1104Q373 1175 485.5 1276T645 1466H763Z" transform="translate(290.99,194.90) scale(0.00732,-0.00754)"/>
<text font-size="15" text-anchor="start" font-weight="normal" transform="translate(301.53,227.00) scale(1,1.040)">2</text>
<text font-size="15" text-anchor="start" font-weight="normal" transform="translate(316.77,279.90) scale(1,1.040)">3</text>
<text font-size="15" text-anchor="start" font-weight="normal" transform="translate(332.68,299.90) scale(1,1.040)">4</text>
<text font-size="15" text-anchor="start" font-weight="normal" transform="translate(390.94,287.10) scale(1,1.040)">5</text>
<path d="M763 0H583V1147Q518 1085 412.5 1023T223 930V1104Q373 1175 485.5 1276T645 1466H763Z" transform="translate(299.49,335.40) scale(0.00732,-0.00754)"/>
<text font-size="15" text-anchor="start" font-weight="normal" transform="translate(303.53,361.00) scale(1,1.040)">2</text>
<text font-size="15" text-anchor="start" font-weight="normal" transform="translate(320.87,404.80) scale(1,1.040)">3</text>
<text font-size="15" text-anchor="start" font-weight="normal" transform="translate(339.88,431.10) scale(1,1.040)">4</text>
<text font-size="15" text-anchor="start" font-weight="normal" transform="translate(406.44,417.30) scale(1,1.040)">5</text>
<path d="M763 0H583V1147Q518 1085 412.5 1023T223 930V1104Q373 1175 485.5 1276T645 1466H763Z" transform="translate(297.79,471.90) scale(0.00732,-0.00754)"/>
<text font-size="15" text-anchor="start" font-weight="normal" transform="translate(302.03,498.10) scale(1,1.040)">2</text>
<text font-size="15" text-anchor="start" font-weight="normal" transform="translate(318.07,553.10) scale(1,1.040)">3</text>
<text font-size="15" text-anchor="start" font-weight="normal" transform="translate(340.08,581.20) scale(1,1.040)">4</text>
<text font-size="15" text-anchor="start" font-weight="normal" transform="translate(406.94,568.10) scale(1,1.040)">5</text>
<path d="M763 0H583V1147Q518 1085 412.5 1023T223 930V1104Q373 1175 485.5 1276T645 1466H763Z" transform="translate(532.79,42.10) scale(0.00732,-0.00754)"/>
<text font-size="15" text-anchor="start" font-weight="normal" transform="translate(539.63,75.40) scale(1,1.040)">2</text>
<text font-size="15" text-anchor="start" font-weight="normal" transform="translate(543.37,119.40) scale(1,1.040)">3</text>
<text font-size="15" text-anchor="start" font-weight="normal" transform="translate(552.18,142.40) scale(1,1.040)">4</text>
<text font-size="15" text-anchor="start" font-weight="normal" transform="translate(582.84,136.10) scale(1,1.040)">5</text>
<path d="M763 0H583V1147Q518 1085 412.5 1023T223 930V1104Q373 1175 485.5 1276T645 1466H763Z" transform="translate(537.39,187.20) scale(0.00732,-0.00754)"/>
<text font-size="15" text-anchor="start" font-weight="normal" transform="translate(542.23,217.70) scale(1,1.040)">2</text>
<text font-size="15" text-anchor="start" font-weight="normal" transform="translate(549.07,266.90) scale(1,1.040)">3</text>
<text font-size="15" text-anchor="start" font-weight="normal" transform="translate(558.78,290.30) scale(1,1.040)">4</text>
<text font-size="15" text-anchor="start" font-weight="normal" transform="translate(598.14,279.30) scale(1,1.040)">5</text>
<path d="M763 0H583V1147Q518 1085 412.5 1023T223 930V1104Q373 1175 485.5 1276T645 1466H763Z" transform="translate(537.99,331.30) scale(0.00732,-0.00754)"/>
<text font-size="15" text-anchor="start" font-weight="normal" transform="translate(543.33,355.70) scale(1,1.040)">2</text>
<text font-size="15" text-anchor="start" font-weight="normal" transform="translate(556.47,399.70) scale(1,1.040)">3</text>
<text font-size="15" text-anchor="start" font-weight="normal" transform="translate(571.68,423.20) scale(1,1.040)">4</text>
<text font-size="15" text-anchor="start" font-weight="normal" transform="translate(624.44,421.70) scale(1,1.040)">5</text>
<path d="M763 0H583V1147Q518 1085 412.5 1023T223 930V1104Q373 1175 485.5 1276T645 1466H763Z" transform="translate(536.49,470.40) scale(0.00732,-0.00754)"/>
<text font-size="15" text-anchor="start" font-weight="normal" transform="translate(542.93,503.40) scale(1,1.040)">2</text>
<text font-size="15" text-anchor="start" font-weight="normal" transform="translate(556.67,555.00) scale(1,1.040)">3</text>
<text font-size="15" text-anchor="start" font-weight="normal" transform="translate(574.58,582.40) scale(1,1.040)">4</text>
<text font-size="15" text-anchor="start" font-weight="normal" transform="translate(626.64,575.10) scale(1,1.040)">5</text>
<path d="M763 0H583V1147Q518 1085 412.5 1023T223 930V1104Q373 1175 485.5 1276T645 1466H763Z" transform="translate(179.46,98.70) scale(0.00732,-0.00754)"/>
<text font-size="15" text-anchor="start" font-weight="normal" transform="translate(187.80,98.70) scale(1,1.040)">5</text>
<ellipse cx="198.80" cy="89.10" rx="1.4" ry="1.75" fill="none" stroke="#000" stroke-width="0.85"/>
<text font-size="15" transform="translate(200.60,98.70) scale(0.88,1.040)">C</text>
<text font-size="15" text-anchor="start" font-weight="normal" transform="translate(179.35,219.10) scale(1,1.040)">25</text>
<ellipse cx="198.69" cy="209.50" rx="1.4" ry="1.75" fill="none" stroke="#000" stroke-width="0.85"/>
<text font-size="15" transform="translate(200.49,219.10) scale(0.88,1.040)">C</text>
<text font-size="15" text-anchor="start" font-weight="normal" transform="translate(179.33,361.40) scale(1,1.040)">35</text>
<ellipse cx="198.67" cy="351.80" rx="1.4" ry="1.75" fill="none" stroke="#000" stroke-width="0.85"/>
<text font-size="15" transform="translate(200.47,361.40) scale(0.88,1.040)">C</text>
<text font-size="15" text-anchor="start" font-weight="normal" transform="translate(179.56,497.50) scale(1,1.040)">45</text>
<ellipse cx="198.90" cy="487.90" rx="1.4" ry="1.75" fill="none" stroke="#000" stroke-width="0.85"/>
<text font-size="15" transform="translate(200.70,497.50) scale(0.88,1.040)">C</text>
<path d="M763 0H583V1147Q518 1085 412.5 1023T223 930V1104Q373 1175 485.5 1276T645 1466H763Z" transform="translate(423.86,98.90) scale(0.00732,-0.00754)"/>
<text font-size="15" text-anchor="start" font-weight="normal" transform="translate(432.20,98.90) scale(1,1.040)">5</text>
<ellipse cx="443.20" cy="89.30" rx="1.4" ry="1.75" fill="none" stroke="#000" stroke-width="0.85"/>
<text font-size="15" transform="translate(445.00,98.90) scale(0.88,1.040)">C</text>
<text font-size="15" text-anchor="start" font-weight="normal" transform="translate(423.45,219.10) scale(1,1.040)">25</text>
<ellipse cx="442.79" cy="209.50" rx="1.4" ry="1.75" fill="none" stroke="#000" stroke-width="0.85"/>
<text font-size="15" transform="translate(444.59,219.10) scale(0.88,1.040)">C</text>
<text font-size="15" text-anchor="start" font-weight="normal" transform="translate(423.63,361.20) scale(1,1.040)">35</text>
<ellipse cx="442.97" cy="351.60" rx="1.4" ry="1.75" fill="none" stroke="#000" stroke-width="0.85"/>
<text font-size="15" transform="translate(444.77,361.20) scale(0.88,1.040)">C</text>
<text font-size="15" text-anchor="start" font-weight="normal" transform="translate(423.66,498.10) scale(1,1.040)">45</text>
<ellipse cx="443.00" cy="488.50" rx="1.4" ry="1.75" fill="none" stroke="#000" stroke-width="0.85"/>
<text font-size="15" transform="translate(444.80,498.10) scale(0.88,1.040)">C</text>
<path d="M763 0H583V1147Q518 1085 412.5 1023T223 930V1104Q373 1175 485.5 1276T645 1466H763Z" transform="translate(639.56,96.80) scale(0.00732,-0.00754)"/>
<text font-size="15" text-anchor="start" font-weight="normal" transform="translate(647.90,96.80) scale(1,1.040)">5</text>
<ellipse cx="658.90" cy="87.20" rx="1.4" ry="1.75" fill="none" stroke="#000" stroke-width="0.85"/>
<text font-size="15" transform="translate(660.70,96.80) scale(0.88,1.040)">C</text>
<text font-size="15" text-anchor="start" font-weight="normal" transform="translate(638.55,217.10) scale(1,1.040)">25</text>
<ellipse cx="657.89" cy="207.50" rx="1.4" ry="1.75" fill="none" stroke="#000" stroke-width="0.85"/>
<text font-size="15" transform="translate(659.69,217.10) scale(0.88,1.040)">C</text>
<text font-size="15" text-anchor="start" font-weight="normal" transform="translate(638.73,359.00) scale(1,1.040)">35</text>
<ellipse cx="658.07" cy="349.40" rx="1.4" ry="1.75" fill="none" stroke="#000" stroke-width="0.85"/>
<text font-size="15" transform="translate(659.87,359.00) scale(0.88,1.040)">C</text>
<text font-size="15" text-anchor="start" font-weight="normal" transform="translate(638.96,495.50) scale(1,1.040)">45</text>
<ellipse cx="658.30" cy="485.90" rx="1.4" ry="1.75" fill="none" stroke="#000" stroke-width="0.85"/>
<text font-size="15" transform="translate(660.10,495.50) scale(0.88,1.040)">C</text>
</svg>
</body></html>
